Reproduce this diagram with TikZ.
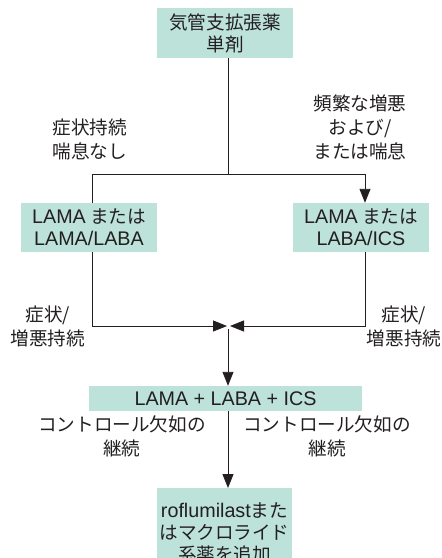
\documentclass[tikz,border=0pt]{standalone}
\usepackage{fontspec}
\setmainfont{Noto Sans CJK JP}
\newfontfamily\lat{Liberation Sans}[Scale=1.06]
\usetikzlibrary{arrows.meta}
\definecolor{boxfill}{HTML}{BCE2D9}
\definecolor{ink}{HTML}{231F20}
\tikzset{
  box/.style={fill=boxfill, text=ink, align=center, font=\fontsize{18.6}{22}\selectfont, minimum width=136pt, inner sep=0pt},
  lbl/.style={text=ink, align=center, font=\fontsize{18.6}{24}\selectfont, inner sep=0pt},
  conn/.style={draw=ink, line width=0.9pt},
  arr/.style={conn, -{Triangle[length=14pt,width=11pt]}}
}
\begin{document}
\begin{tikzpicture}[x=1pt,y=-1pt]
\useasboundingbox (0,0) rectangle (442,558);
\clip (0,0) rectangle (442,558);
\node[box, minimum height=50pt] (top) at (225,33) {気管支拡張薬\\単剤};
\node[box, minimum height=49pt] (left) at (89,227.5) {{\lat LAMA} または\\{\lat LAMA/LABA}};
\node[box, minimum height=49pt] (right) at (361,227.5) {{\lat LAMA} または\\{\lat LABA/ICS}};
\node[box, minimum width=273pt, minimum height=25pt] (mid) at (225.5,398.5) {\lat LAMA + LABA + ICS};
\node[box, minimum width=135pt, minimum height=90pt, anchor=north] (bot) at (224.5,488) {{\lat roflumilast}また\\はマクロライド\\系薬を追加};
\coordinate (jc) at (228,174);
\coordinate (jl) at (92,174);
\coordinate (jr) at (365,174);
\coordinate (ml) at (92,326);
\coordinate (mr) at (365,326);
\coordinate (mtl) at (227,326);
\coordinate (mtr) at (230,326);
\coordinate (m0) at (228,329);
\draw[conn] (top.south -| jc) -- (jc);
\draw[conn] (jl) -- (jr);
\draw[conn] (jl) -- (left.north -| jl);
\draw[arr] (jr) -- (right.north -| jr);
\draw[arr] (left.south -| ml) -- (ml) -- (mtl);
\draw[arr] (right.south -| mr) -- (mr) -- (mtr);
\draw[arr] (m0) -- (mid.north -| m0);
\draw[arr] (mid.south -| m0) -- (bot.north -| m0);
\node[lbl] (l1) at (90,139) {症状持続\\喘息なし};
\node[lbl] (r1) at (360,127) {頻繁な増悪\\および/\\または喘息};
\node[lbl] (l2) at (48,326.5) {症状/\\増悪持続};
\node[lbl] (r2) at (404,326.5) {症状/\\増悪持続};
\node[lbl] (l3) at (122,436) {コントロール欠如の\\継続};
\node[lbl] (r3) at (327,436) {コントロール欠如の\\継続};
\end{tikzpicture}
\end{document}
